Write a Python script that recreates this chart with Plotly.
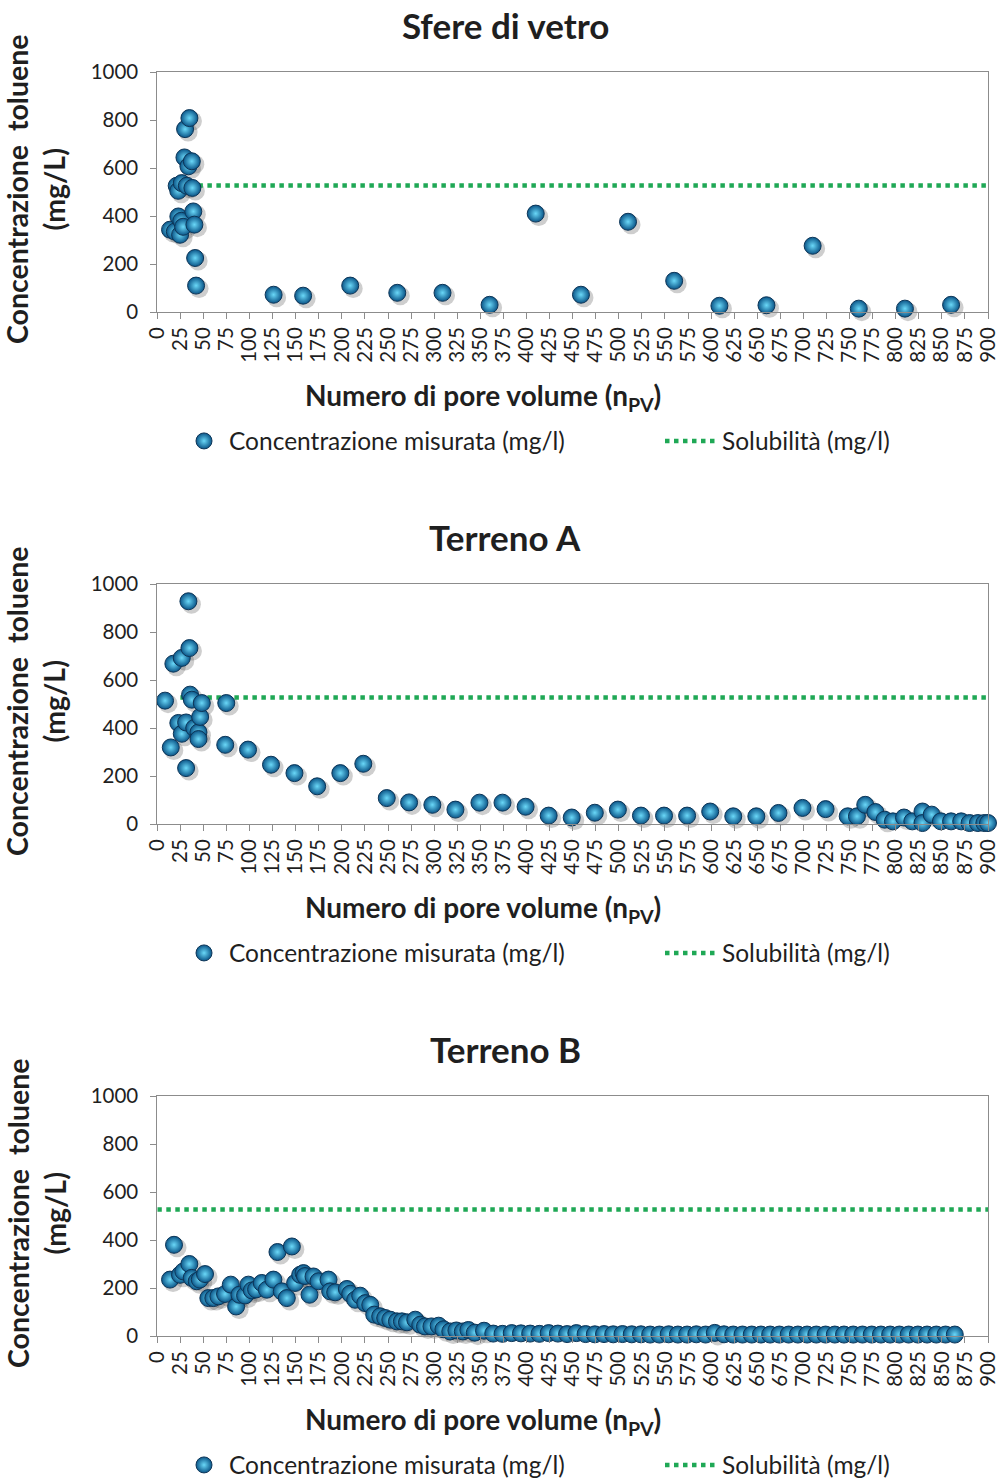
import plotly.graph_objects as go

# ---- measured toluene concentration vs. number of pore volumes ----
vetro_npv = [13.8, 19, 21, 22.7, 22.8, 24.7, 26, 26.5, 28, 29.4, 30.1, 32, 33.7, 34.8, 37.4, 38,
             39, 40.2, 41, 42, 126, 158, 209, 260, 309, 360, 410, 459, 510, 560, 609, 660, 710,
             760, 810, 860]
vetro_conc = [343, 335, 526, 505, 398, 322, 380, 537, 355, 644, 762, 526, 607, 808, 628, 517,
              419, 364, 225, 110, 72, 68, 110, 80, 80, 30, 410, 72, 376, 130, 26, 28, 276,
              14, 14, 30]

terrA_npv = [8.4, 14.6, 17.4, 22.8, 26.5, 26.5, 31.2, 31.2, 33.7, 34.8, 35.5, 37.4, 40, 44.6,
             44.6, 46.4, 48.2, 73.6, 74.7, 98.3, 123.2, 148.6, 173.2, 198.3, 223.2, 248.6,
             272.8, 298, 323, 349, 374, 399, 424, 449, 474, 499, 524, 549, 574, 599, 624, 649,
             673, 699, 724, 748, 758, 767, 778, 788, 797, 809, 818, 829, 829, 839, 849, 860,
             871, 880, 889, 896, 900]
terrA_conc = [514, 319, 668, 421, 692, 376, 423, 233, 928, 733, 539, 518, 400, 382, 354, 446,
              504, 330, 504, 310, 247, 212, 157, 212, 251, 108, 90, 80, 60, 89, 89, 72, 35, 27,
              47, 60, 35, 35, 35, 52, 32, 32, 46, 67, 62, 32, 32, 80, 50, 18, 11, 27, 11, 52,
              4, 39, 11, 11, 11, 4, 4, 4, 4]

terrB_npv = [13.8, 18.1, 24.6, 28.2, 34.7, 37.3, 42.7, 46, 51.7, 55.3, 60.7, 66.2, 73.4, 79.6,
             85.4, 89, 95.1, 98.7, 102.4, 107, 113.2, 118.7, 125.8, 130.2, 134.9, 140.3, 145.8,
             149.3, 154.8, 158.4, 160, 164.9, 169.2, 174.6, 185.5, 187.3, 192.7, 205.4, 209,
             214.4, 219.8, 225.3, 230.7, 235, 241.5, 246.9, 252.4, 259.6, 265, 270.5, 279.5,
             284.9, 290, 297, 304.8, 310, 317.4, 324, 331, 337,
             344, 354, 364, 374, 384, 394, 404, 414, 424, 434, 444, 454, 464, 474, 484, 494,
             504, 514, 524, 534, 544, 554, 564, 574, 584, 594, 604, 614, 624, 634, 644, 654,
             664, 674, 684, 694, 704, 714, 724, 734, 744, 754, 764, 774, 784, 794, 804, 814,
             824, 834, 844, 854, 864]
terrB_conc = [235, 380, 255, 269, 300, 242, 228, 235, 258, 158, 158, 165, 175, 214, 123, 172,
              169, 214, 190, 194, 221, 193, 235, 350, 186, 158, 373, 221, 255, 262, 250, 172,
              248, 228, 235, 186, 182, 196, 176, 151, 168, 137, 130, 89, 82, 75, 68, 61, 61,
              57, 68, 47, 40, 40, 43, 28, 19, 23, 19, 25,
              14, 22, 10, 9, 12, 11, 10, 9, 12, 10, 8, 12, 8, 7, 8, 7, 8, 7, 7, 6, 6, 7, 6, 6,
              7, 6, 13, 7, 6, 6, 6, 6, 6, 6, 6, 6, 6, 6, 6, 6, 6, 6, 6, 6, 6, 6, 6, 6, 6, 6, 6,
              6, 6]

# solubility of toluene in water (mg/l), drawn as a dotted reference line
solubility = 527
sol_npv = {"vetro": [25, 900], "A": [25, 900], "B": [0, 900]}

panel_titles = ["Sfere di vetro", "Terreno A", "Terreno B"]
y_title = "Concentrazione  toluene<br>(mg/L)"
x_title = "Numero di pore volume (n<sub>PV</sub>)"
legend_points = "Concentrazione misurata (mg/l)"
legend_sol = "Solubilità (mg/l)"

# ---- page geometry (pixels) ----
W, H = 1001, 1482
PLOT_L, PLOT_R = 157.3, 988
PANEL_TOP = [72, 584, 1096]
PANEL_H = 240
X_MAX, Y_MAX = 900, 1000

FONT = "Lato"
TXT = "#1f1f1f"
AXC = "#8c8c8c"
BALL_EDGE = "#0a5588"
BALL_CORE = "#6ad8f8"
BALL_LINE = "#0d3557"
SOL_C = "#1fa855"


def fx(p):
    return p / W


def fy(p):
    return 1 - p / H


# shadow offset: 3 px right, 3 px down, converted to data units
sh_dx = 3 * X_MAX / (PLOT_R - PLOT_L)
sh_dy = -3 * Y_MAX / PANEL_H

fig = go.Figure()
datasets = [(vetro_npv, vetro_conc, "vetro"), (terrA_npv, terrA_conc, "A"),
            (terrB_npv, terrB_conc, "B")]

layout_axes = {}
annotations = []
for i, ((xs, ys, key), title, top) in enumerate(zip(datasets, panel_titles, PANEL_TOP)):
    n = i + 1
    xa = "x" if n == 1 else f"x{n}"
    ya = "y" if n == 1 else f"y{n}"
    leg_pts = f"legend{2 * n - 1}" if n > 1 else "legend"
    leg_sol = f"legend{2 * n}"
    bottom = top + PANEL_H

    # soft drop shadow under each sphere
    fig.add_trace(go.Scatter(
        x=[v + sh_dx for v in xs], y=[v + sh_dy for v in ys], mode="markers",
        marker=dict(size=19, color="rgba(60,60,60,0.25)", line=dict(width=0)),
        xaxis=xa, yaxis=ya, showlegend=False, hoverinfo="skip", cliponaxis=False))
    # solubility line
    fig.add_trace(go.Scatter(
        x=sol_npv[key], y=[solubility, solubility], mode="lines",
        line=dict(color=SOL_C, width=4.5, dash="4.5px,4.5px"),
        name=legend_sol, xaxis=xa, yaxis=ya, legend=leg_sol))
    # measured concentrations
    fig.add_trace(go.Scatter(
        x=xs, y=ys, mode="markers", name=legend_points,
        marker=dict(size=17, color=BALL_EDGE,
                    gradient=dict(type="radial", color=BALL_CORE),
                    line=dict(color=BALL_LINE, width=1)),
        xaxis=xa, yaxis=ya, legend=leg_pts, cliponaxis=False))

    axkey = "" if n == 1 else str(n)
    layout_axes[f"xaxis{axkey}"] = dict(
        domain=[fx(PLOT_L), fx(PLOT_R)], range=[0, X_MAX], anchor=ya,
        tickmode="linear", tick0=0, dtick=25, tickangle=-90,
        ticks="outside", ticklen=6, tickcolor=AXC,
        showline=True, mirror=True, linecolor=AXC, linewidth=1,
        showgrid=False, zeroline=False,
        tickfont=dict(family=FONT, size=20.5, color=TXT))
    layout_axes[f"yaxis{axkey}"] = dict(
        domain=[fy(bottom), fy(top)], range=[0, Y_MAX], anchor=xa,
        tickmode="linear", tick0=0, dtick=200,
        ticks="outside", ticklen=6, tickcolor=AXC, ticklabelstandoff=8,
        showline=True, mirror=True, linecolor=AXC, linewidth=1,
        showgrid=False, zeroline=False,
        tickfont=dict(family=FONT, size=20.5, color=TXT))
    leg_common = dict(orientation="h", yanchor="middle", xanchor="left",
                      y=fy(bottom + 129), bgcolor="rgba(0,0,0,0)",
                      font=dict(family=FONT, size=24.5, color=TXT))
    layout_axes[leg_pts] = dict(x=fx(179), itemwidth=40, **leg_common)
    layout_axes[leg_sol] = dict(x=fx(660), itemwidth=52, **leg_common)

    annotations.append(dict(
        text=f"<b>{title}</b>", x=fx(505), y=fy(top - 47), xref="paper", yref="paper",
        showarrow=False, font=dict(family=FONT, size=35, color=TXT),
        xanchor="center", yanchor="middle"))
    annotations.append(dict(
        text=f"<b>{y_title}</b>", x=fx(36), y=fy(top + PANEL_H / 2 - 2), xref="paper",
        yref="paper", showarrow=False, textangle=-90,
        font=dict(family=FONT, size=28.5, color=TXT), xanchor="center", yanchor="middle"))
    annotations.append(dict(
        text=f"<b>{x_title}</b>", x=fx(483), y=fy(bottom + 85), xref="paper",
        yref="paper", showarrow=False, font=dict(family=FONT, size=28, color=TXT),
        xanchor="center", yanchor="middle"))

fig.update_layout(
    width=W, height=H, margin=dict(l=0, r=0, t=0, b=0, autoexpand=False),
    paper_bgcolor="white", plot_bgcolor="white",
    annotations=annotations, **layout_axes)

fig.write_html("out.html")
